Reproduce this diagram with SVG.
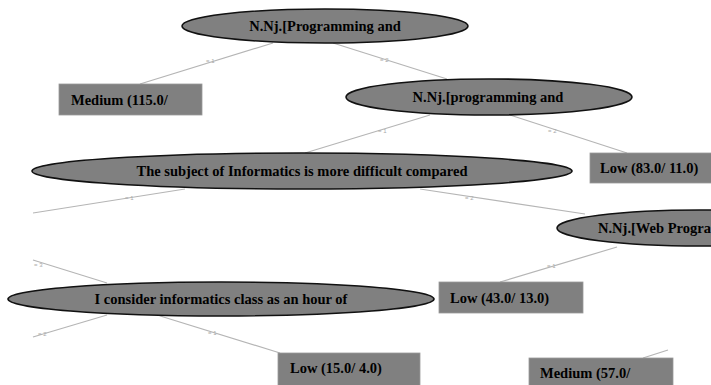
<svg xmlns="http://www.w3.org/2000/svg" width="711" height="385" viewBox="0 0 711 385">
<style>
.ell{fill:#808080;stroke:#111;stroke-width:1.6}
.box{fill:#808080;stroke:#9a9a9a;stroke-width:0.8}
.t{font-family:"Liberation Serif","Times New Roman",serif;font-size:14.5px;font-weight:bold;fill:#000}
.e{stroke:#b5b5b5;stroke-width:1.2;fill:none}
.el{font-family:"Liberation Sans",sans-serif;font-size:6px;fill:#aaa}
</style>
<rect width="711" height="385" fill="#fff"/>
<g id="connectors">
<line class="e" x1="273" y1="43" x2="140" y2="84"/>
<text class="el" x="206" y="63">= 1</text>
<line class="e" x1="333" y1="43" x2="447" y2="79"/>
<text class="el" x="380" y="62">= 2</text>
<line class="e" x1="430" y1="115" x2="305" y2="153"/>
<text class="el" x="378" y="133">= 1</text>
<line class="e" x1="510" y1="115" x2="627" y2="153"/>
<text class="el" x="548" y="133">= 2</text>
<line class="e" x1="185" y1="189" x2="33" y2="213"/>
<text class="el" x="125" y="200">= 1</text>
<line class="e" x1="420" y1="189" x2="585" y2="214"/>
<text class="el" x="465" y="200">= 2</text>
<line class="e" x1="617" y1="247" x2="500" y2="282"/>
<text class="el" x="547" y="268">= 1</text>
<line class="e" x1="643" y1="358" x2="668" y2="350"/>
<line class="e" x1="33" y1="260" x2="107" y2="283"/>
<text class="el" x="34" y="267">= 3</text>
<line class="e" x1="107" y1="315" x2="33" y2="337"/>
<text class="el" x="38" y="336">= 2</text>
<line class="e" x1="157" y1="315" x2="280" y2="353"/>
<text class="el" x="208" y="335">= 1</text>
</g>
<g id="n1">
<ellipse class="ell" cx="325" cy="26" rx="143" ry="17"/>
<text class="t" x="325" y="31" text-anchor="middle">N.Nj.[Programming and</text>
</g>
<g id="n2">
<rect class="box" x="59" y="84" width="143" height="31"/>
<text class="t" x="71" y="105">Medium (115.0/</text>
</g>
<g id="n3">
<ellipse class="ell" cx="489" cy="97" rx="143" ry="18"/>
<text class="t" x="488" y="102" text-anchor="middle">N.Nj.[programming and</text>
</g>
<g id="n4">
<rect class="box" x="590" y="153" width="124" height="30"/>
<text class="t" x="600" y="173">Low (83.0/ 11.0)</text>
</g>
<g id="n5">
<ellipse class="ell" cx="302" cy="171" rx="270" ry="18"/>
<text class="t" x="302" y="176" text-anchor="middle">The subject of Informatics is more difficult compared</text>
</g>
<g id="n6">
<ellipse class="ell" cx="700" cy="228" rx="143" ry="18"/>
<text class="t" x="598" y="233">N.Nj.[Web Progra</text>
</g>
<g id="n7">
<rect class="box" x="439" y="282" width="144" height="31"/>
<text class="t" x="450" y="303">Low (43.0/ 13.0)</text>
</g>
<g id="n8">
<ellipse class="ell" cx="221" cy="299" rx="213" ry="17"/>
<text class="t" x="221" y="304" text-anchor="middle">I consider informatics class as an hour of</text>
</g>
<g id="n9">
<rect class="box" x="278" y="353" width="142" height="34"/>
<text class="t" x="290" y="373">Low (15.0/ 4.0)</text>
</g>
<g id="n10">
<rect class="box" x="529" y="358" width="144" height="30"/>
<text class="t" x="540" y="378">Medium (57.0/</text>
</g>
</svg>
